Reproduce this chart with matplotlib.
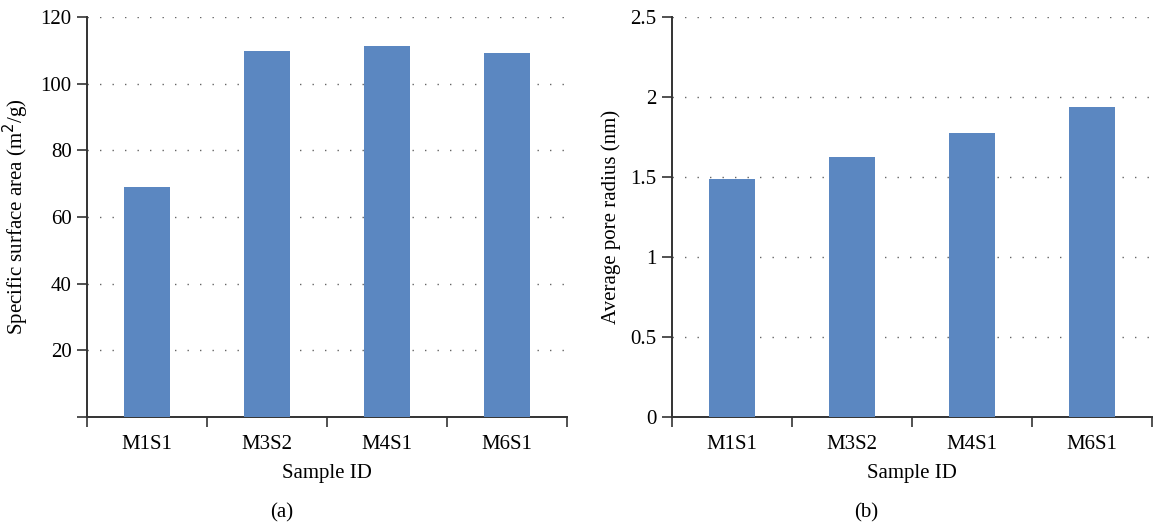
import matplotlib
matplotlib.use("Agg")
import matplotlib.pyplot as plt
import numpy as np

plt.rcParams['font.family'] = ['Liberation Serif', 'DejaVu Serif']

samples = ["M1S1", "M3S2", "M4S1", "M6S1"]
surface_area = [69.0, 109.8, 111.3, 109.2]
pore_radius = [1.49, 1.625, 1.775, 1.94]

area_ticks = [0, 20, 40, 60, 80, 100, 120]
area_tick_labels = ["", "20", "40", "60", "80", "100", "120"]
radius_ticks = [0, 0.5, 1, 1.5, 2, 2.5]
radius_tick_labels = ["0", "0.5", "1", "1.5", "2", "2.5"]

BAR = "#5B87C1"
AXIS = "#333333"
FS = 15


def draw_panel(ax, values, ticks, tick_labels, ylabel, tag):
    x = np.arange(len(samples))
    ax.bar(x, values, width=0.39, color=BAR, zorder=3)
    ax.set_xlim(-0.5, len(samples) - 0.5)
    ax.set_ylim(ticks[0], ticks[-1])
    ax.set_yticks(ticks)
    ax.set_yticklabels(tick_labels, fontsize=FS)
    ax.set_xticks(x)
    ax.set_xticklabels(samples, fontsize=FS)
    # category separators as ticks on the x axis
    ax.set_xticks(np.arange(len(samples) + 1) - 0.5, minor=True)
    ax.tick_params(axis="x", which="major", length=0, pad=13)
    ax.tick_params(axis="x", which="minor", length=7, width=1.2, color=AXIS)
    ax.tick_params(axis="y", length=7, width=1.2, color=AXIS, pad=4)
    for side in ("top", "right"):
        ax.spines[side].set_visible(False)
    for side in ("left", "bottom"):
        ax.spines[side].set_color(AXIS)
        ax.spines[side].set_linewidth(1.4)
    ax.yaxis.grid(True, linestyle=(0, (1, 8)), color="#666666", linewidth=1.0, zorder=0)
    ax.set_axisbelow(True)
    ax.set_xlabel("Sample ID", fontsize=FS, labelpad=7)
    ax.set_ylabel(ylabel, fontsize=FS, labelpad=7)
    ax.text(0.405, -0.24, tag, transform=ax.transAxes, ha="center", va="center",
            fontsize=FS)


fig = plt.figure(figsize=(11.74, 5.24), dpi=100)
ax1 = fig.add_axes([0.0741, 0.2042, 0.4089, 0.7634])
ax2 = fig.add_axes([0.5724, 0.2042, 0.4089, 0.7634])

draw_panel(ax1, surface_area, area_ticks, area_tick_labels,
           "Specific surface area (m$^2$/g)", "(a)")
draw_panel(ax2, pore_radius, radius_ticks, radius_tick_labels,
           "Average pore radius (nm)", "(b)")

fig.savefig("out.png", dpi=100)
